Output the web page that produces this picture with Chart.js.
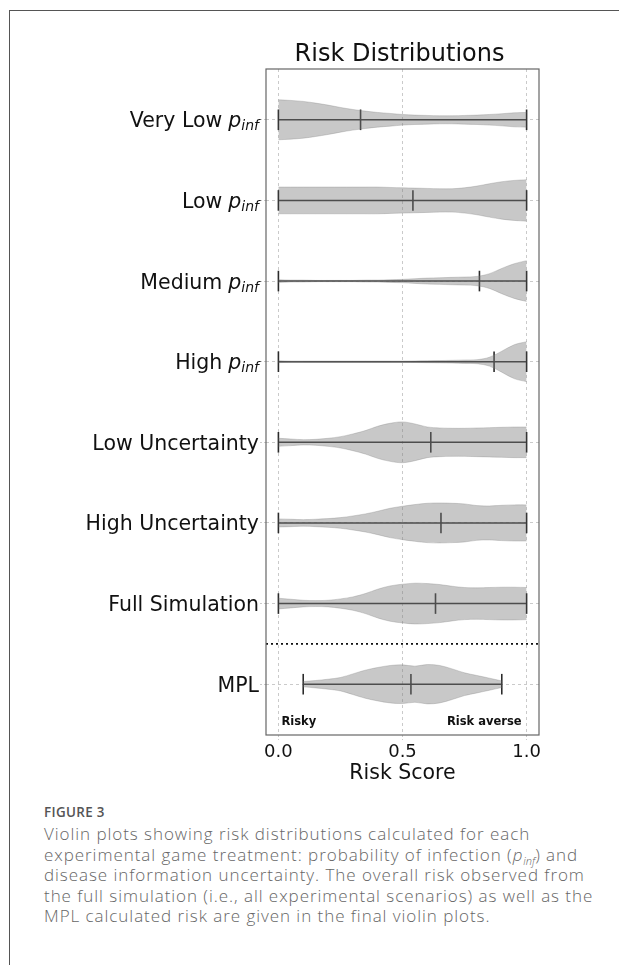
<!DOCTYPE html>
<html>
<head>
<meta charset="utf-8">
<script src="https://cdn.jsdelivr.net/npm/chart.js@4.4.1/dist/chart.umd.min.js"></script>
<style>
    body { margin: 0; background: #fff; width: 619px; height: 965px; position: relative; overflow: hidden; }
    #frame { position: absolute; left: 9px; top: 10px; right: -2px; bottom: -2px; border-top: 1.5px solid #555; border-left: 1.5px solid #555; }
    #chartBox { position: absolute; left: 0; top: 0; width: 619px; height: 790px; }
    #caption { position: absolute; left: 44px; top: 802px; width: 570px; font-family: "Open Sans", sans-serif; color: #666; }
    #caption .fig { font-size: 13.4px; font-weight: 600; color: #555; letter-spacing: 0.35px; line-height: 20px; }
    #caption .txt { font-size: 17px; font-weight: 300; letter-spacing: 0.95px; line-height: 20.5px; margin-top: 2px; }
    #caption .sub { font-size: 11px; letter-spacing: 0; position: relative; top: 4px; line-height: 0; }
</style>
</head>
<body>
<div id="frame"></div>
<div id="chartBox"><canvas id="violinChart"></canvas></div>
<div id="caption">
    <div class="fig">FIGURE 3</div>
    <div class="txt">Violin plots showing risk distributions calculated for each experimental game treatment: probability of infection (<i>p<span class="sub">inf</span></i>) and disease information uncertainty. The overall risk observed from the full simulation (i.e., all experimental scenarios) as well as the MPL calculated risk are given in the final violin plots.</div>
</div>
<script>
// categorias (de arriba a abajo)
const categorias = ['Very Low p_inf', 'Low p_inf', 'Medium p_inf', 'High p_inf',
    'Low Uncertainty', 'High Uncertainty', 'Full Simulation', 'MPL'];

// puntos de muestreo del riesgo
const xMuestras = [0, 0.05, 0.1, 0.15, 0.2, 0.25, 0.3, 0.35, 0.4, 0.45, 0.5,
    0.55, 0.6, 0.65, 0.7, 0.75, 0.8, 0.85, 0.9, 0.95, 1.0];
const xMuestrasMPL = [0.1, 0.15, 0.2, 0.25, 0.3, 0.35, 0.4, 0.45, 0.5,
    0.55, 0.6, 0.65, 0.7, 0.75, 0.8, 0.85, 0.9];

// medio ancho del violin en cada punto (unidades de categoria)
const anchoMuyBajo = [.248, .240, .228, .207, .182, .153, .128, .108, .091, .079, .066,
    .058, .054, .050, .050, .054, .058, .066, .075, .087, .091];
const anchoBajo = [.166, .166, .166, .166, .166, .166, .166, .166, .166, .161, .157,
    .153, .149, .145, .145, .157, .178, .207, .232, .248, .257];
const anchoMedio = [.017, .012, .012, .008, .008, .008, .008, .012, .012, .017, .021,
    .029, .037, .041, .046, .050, .058, .091, .157, .215, .253];
const anchoAlto = [.012, .008, .008, .008, .008, .008, .008, .008, .008, .008, .008,
    .010, .012, .014, .017, .021, .025, .055, .130, .210, .248];
const anchoBajaIncert = [.050, .041, .033, .037, .050, .070, .104, .145, .199, .236, .253,
    .228, .190, .178, .174, .174, .178, .182, .186, .190, .190];
const anchoAltaIncert = [.050, .046, .041, .046, .054, .066, .087, .112, .145, .182, .207,
    .228, .244, .248, .244, .236, .215, .211, .219, .224, .224];
const anchoSimulacion = [.066, .054, .041, .037, .041, .058, .083, .124, .178, .219, .240,
    .253, .248, .236, .215, .199, .195, .199, .203, .203, .199];
const anchoMPL = [.033, .046, .062, .083, .128, .174, .207, .232, .240, .224, .244,
    .232, .190, .141, .108, .075, .041];

// minimo, media y maximo de cada distribucion
const minimos = [0, 0, 0, 0, 0, 0, 0, 0.10];
const medias = [0.331, 0.542, 0.81, 0.869, 0.614, 0.655, 0.633, 0.534];
const maximos = [1, 1, 1, 1, 1, 1, 1, 0.90];

const xTicks = [0, 0.5, 1.0];

const violines = [
    { x: xMuestras, w: anchoMuyBajo },
    { x: xMuestras, w: anchoBajo },
    { x: xMuestras, w: anchoMedio },
    { x: xMuestras, w: anchoAlto },
    { x: xMuestras, w: anchoBajaIncert },
    { x: xMuestras, w: anchoAltaIncert },
    { x: xMuestras, w: anchoSimulacion },
    { x: xMuestrasMPL, w: anchoMPL }
];

const relleno = 'rgba(125,125,125,0.42)';
const datasets = [];

violines.forEach((v, i) => {
    datasets.push({
        data: v.x.map((x, k) => ({ x: x, y: i - v.w[k] })),
        showLine: true, fill: '+1', backgroundColor: relleno,
        borderColor: 'rgba(125,125,125,0.5)', borderWidth: 0.6,
        pointRadius: 0, tension: 0.35
    });
    datasets.push({
        data: v.x.map((x, k) => ({ x: x, y: i + v.w[k] })),
        showLine: true, fill: false,
        borderColor: 'rgba(125,125,125,0.5)', borderWidth: 0.6,
        pointRadius: 0, tension: 0.35
    });
});

// lineas min-max
categorias.forEach((c, i) => {
    datasets.push({
        data: [{ x: minimos[i], y: i }, { x: maximos[i], y: i }],
        showLine: true, borderColor: '#2b2b2b', borderWidth: 1.6, pointRadius: 0
    });
    datasets.push({
        data: [{ x: minimos[i], y: i }, { x: medias[i], y: i }, { x: maximos[i], y: i }],
        showLine: false, pointStyle: 'line', rotation: 90, pointRadius: 10.3,
        borderColor: '#2b2b2b', pointBorderColor: '#2b2b2b', pointBorderWidth: 1.6
    });
});

// separador punteado entre simulacion y MPL
const ySeparador = (categorias.length - 2 + categorias.length - 1) / 2;
datasets.push({
    data: [{ x: -0.05, y: ySeparador }, { x: 1.05, y: ySeparador }],
    showLine: true, borderColor: '#111', borderWidth: 1.6, borderDash: [2, 3], pointRadius: 0
});

const etiquetasPlugin = {
    id: 'etiquetas',
    afterDraw(chart) {
        const ctx = chart.ctx;
        const area = chart.chartArea;
        const ys = chart.scales.y;
        const xs = chart.scales.x;
        ctx.save();
        // marco del area
        ctx.strokeStyle = '#666';
        ctx.lineWidth = 1.2;
        ctx.strokeRect(area.left, area.top, area.right - area.left, area.bottom - area.top);

        ctx.fillStyle = '#111';
        ctx.textBaseline = 'alphabetic';
        categorias.forEach((c, i) => {
            const y = ys.getPixelForValue(i) + 7.5;
            let right = area.left - 7;
            if (c.endsWith(' p_inf')) {
                ctx.font = 'italic 14px "DejaVu Sans"';
                const wSub = ctx.measureText('inf').width;
                ctx.textAlign = 'left';
                ctx.fillText('inf', right - wSub, y + 3);
                right -= wSub;
                ctx.font = 'italic 20.5px "DejaVu Sans"';
                const wP = ctx.measureText('p').width;
                ctx.fillText('p', right - wP, y);
                right -= wP + 6;
                ctx.font = '20.5px "DejaVu Sans"';
                ctx.textAlign = 'right';
                ctx.fillText(c.replace(' p_inf', ''), right, y);
            } else {
                ctx.font = '20.5px "DejaVu Sans"';
                ctx.textAlign = 'right';
                ctx.fillText(c, right, y);
            }
        });

        ctx.font = 'bold 11.5px "DejaVu Sans"';
        const yTexto = ys.getPixelForValue(categorias.length - 1 + 0.5);
        ctx.textAlign = 'left';
        ctx.fillText('Risky', xs.getPixelForValue(0.012), yTexto);
        ctx.textAlign = 'right';
        ctx.fillText('Risk averse', xs.getPixelForValue(0.98), yTexto);
        ctx.restore();
    }
};

const ctx = document.getElementById('violinChart').getContext('2d');
window.myChart = new Chart(ctx, {
    type: 'scatter',
    data: { datasets: datasets },
    plugins: [etiquetasPlugin],
    options: {
        responsive: true,
        maintainAspectRatio: false,
        animation: false,
        layout: { padding: { left: 260, right: 80, top: 43, bottom: 0 } },
        plugins: {
            legend: { display: false },
            tooltip: { enabled: false },
            title: {
                display: true,
                text: 'Risk Distributions',
                color: '#111',
                font: { family: '"DejaVu Sans"', size: 24, weight: 'normal', lineHeight: 1.0 },
                padding: { top: 0, bottom: 2 }
            }
        },
        scales: {
            x: {
                type: 'linear', min: -0.05, max: 1.05,
                afterBuildTicks: s => { s.ticks = xTicks.map(v => ({ value: v })); },
                afterFit: s => { s.height = 55; },
                ticks: {
                    color: '#111', padding: 2,
                    font: { family: '"DejaVu Sans"', size: 18 },
                    callback: v => v.toFixed(1)
                },
                grid: { color: '#bdbdbd', lineWidth: 0.8, tickLength: 5, tickBorderDash: [2, 2] },
                border: { display: false, dash: [3, 3] },
                title: {
                    display: true, text: 'Risk Score', color: '#111',
                    font: { family: '"DejaVu Sans"', size: 20.5 },
                    padding: { top: 0, bottom: 4 }
                }
            },
            y: {
                type: 'linear', min: -0.63, max: 7.63, reverse: true,
                afterBuildTicks: s => { s.ticks = categorias.map((c, i) => ({ value: i })); },
                ticks: { display: false },
                grid: { color: '#bdbdbd', lineWidth: 0.8, tickLength: 6, tickBorderDash: [2, 2] },
                border: { display: false, dash: [3, 3] }
            }
        }
    }
});
</script>
</body>
</html>
